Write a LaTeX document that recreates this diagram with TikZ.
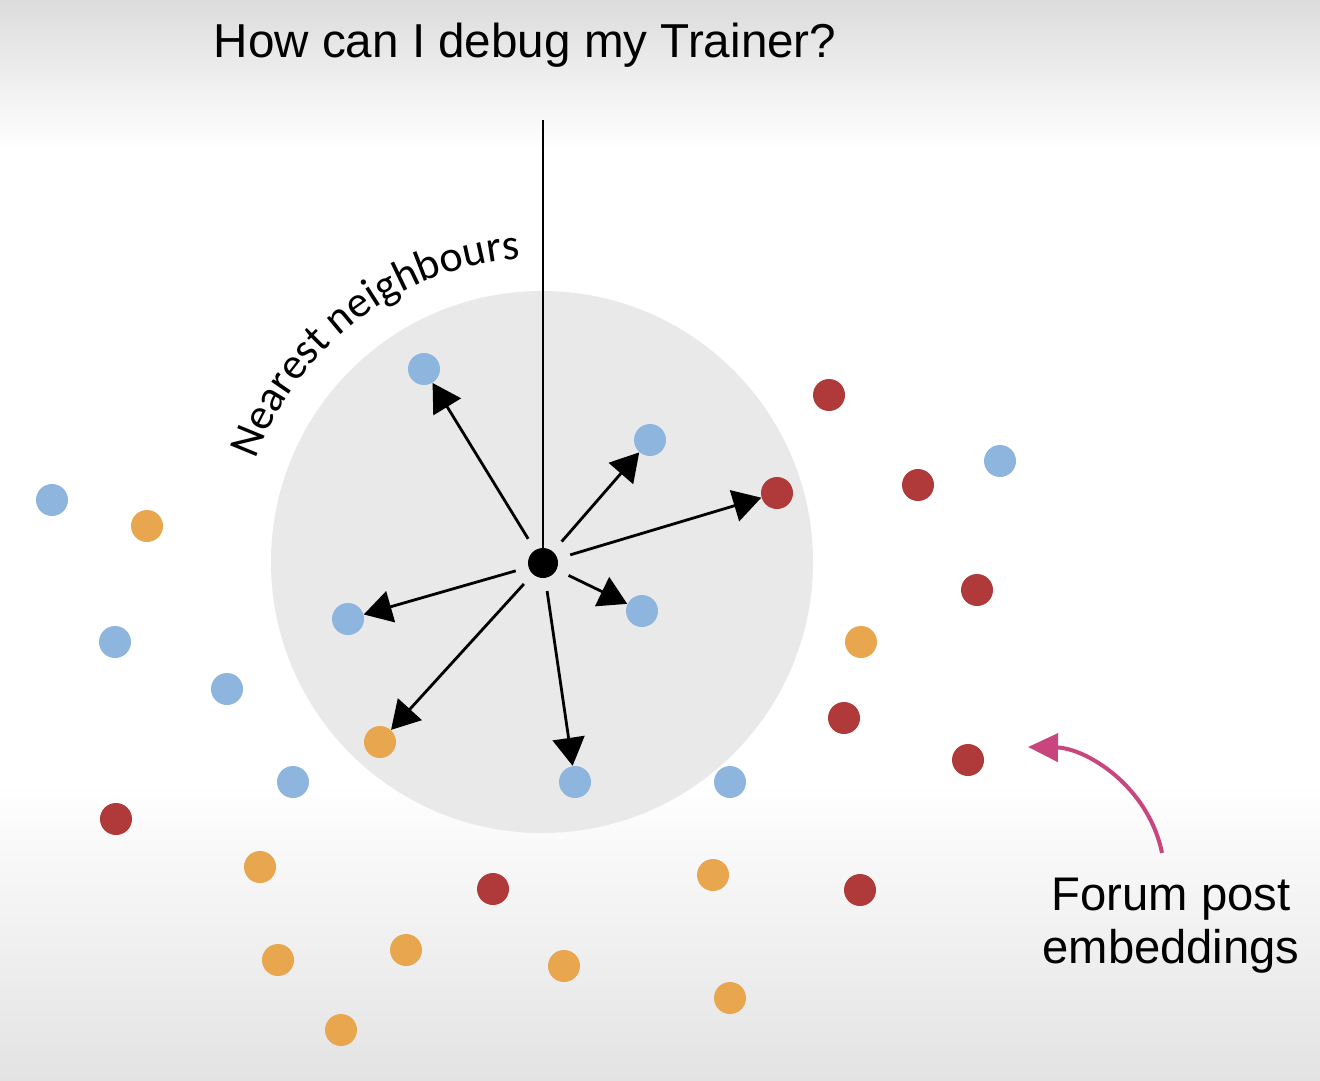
\documentclass[tikz,border=0pt]{standalone}
\usepackage{fontspec}
\setmainfont{Liberation Sans}
\newfontfamily\carlitofont{Carlito}
\usetikzlibrary{arrows.meta,decorations.text}
\definecolor{bgtop}{HTML}{DCDCDC}
\definecolor{bgbot}{HTML}{E3E3E3}
\definecolor{diskgray}{HTML}{E9E9E9}
\definecolor{dotblue}{HTML}{8DB5DE}
\definecolor{dotorange}{HTML}{E8A74E}
\definecolor{dotred}{HTML}{B03A3A}
\definecolor{pinkc}{HTML}{C8467D}
\tikzset{
  dotbase/.style={circle, inner sep=0pt, minimum size=16pt},
  bdot/.style={dotbase, fill=dotblue},
  odot/.style={dotbase, fill=dotorange},
  rdot/.style={dotbase, fill=dotred},
  nnarrow/.style={line width=1.4pt, -{Triangle[length=14pt,width=16pt]}, shorten <=6.5pt},
  pinkarrow/.style={line width=2pt, draw=pinkc, -{Triangle[length=15pt,width=14pt]}},
}
\begin{document}
\begin{tikzpicture}[x=0.5pt,y=-0.5pt]
\useasboundingbox (0,0) rectangle (1320,1080);
% background
\fill[white] (0,0) rectangle (1320,1080);
\shade[top color=bgtop, bottom color=white] (0,0) rectangle (1320,150);
\shade[top color=white, bottom color=bgbot] (0,780) rectangle (1320,1080);
% disk
\node[circle, fill=diskgray, inner sep=0pt, minimum size=271pt] (disk) at (542,562) {};
% title and query line
\node[font=\fontsize{23.8}{28}\selectfont, anchor=base] (title) at (525,58) {How can I debug my Trainer?};
\coordinate (qtop) at (543,120);
\node[circle, fill=black, inner sep=0pt, minimum size=15pt] (c) at (543,563) {};
\draw[line width=1pt] (qtop) -- (c.center);
% curved label
\path[decorate, decoration={text along path, text align={center},
  text={|\carlitofont\fontsize{22}{26}\selectfont|Nearest neighbours}}]
  (543,563) ++(-167.25:305) arc[start angle=-167.25, end angle=-87.25, radius=305];
% neighbour dots
\node[bdot] (n1) at (424,369) {};
\node[bdot] (n2) at (650,440) {};
\node[rdot] (n3) at (777,493) {};
\node[bdot] (n4) at (348,619) {};
\node[bdot] (n5) at (642,611) {};
\node[bdot] (n6) at (575,782) {};
\node[odot] (n7) at (380,742) {};
% other dots
\node[bdot] (b1) at (52,500) {};
\node[bdot] (b2) at (115,642) {};
\node[bdot] (b3) at (227,689) {};
\node[bdot] (b4) at (293,782) {};
\node[bdot] (b5) at (730,782) {};
\node[bdot] (b6) at (1000,461) {};
\node[odot] (o1) at (147,526) {};
\node[odot] (o2) at (861,642) {};
\node[odot] (o3) at (260,867) {};
\node[odot] (o4) at (713,875) {};
\node[odot] (o5) at (278,960) {};
\node[odot] (o6) at (406,950) {};
\node[odot] (o7) at (564,966) {};
\node[odot] (o8) at (730,998) {};
\node[odot] (o9) at (341,1030) {};
\node[rdot] (r1) at (829,395) {};
\node[rdot] (r2) at (918,485) {};
\node[rdot] (r3) at (977,590) {};
\node[rdot] (r4) at (844,718) {};
\node[rdot] (r5) at (968,760) {};
\node[rdot] (r6) at (116,819) {};
\node[rdot] (r7) at (493,889) {};
\node[rdot] (r8) at (860,890) {};
% arrows
\foreach \n in {n1,n2,n3,n4,n5,n6,n7}
  \draw[nnarrow] (c) -- (\n);
% forum label
\node[font=\fontsize{23.6}{28}\selectfont, anchor=base] (forum1) at (1171,910) {Forum post};
\node[font=\fontsize{23.6}{28}\selectfont, anchor=base] (forum2) at (1171,963) {embeddings};
\coordinate (pstart) at (1162,853);
\coordinate (ptip) at (1028,747);
\draw[pinkarrow] (pstart) .. controls (1148,785) and (1085,748) .. (ptip);
\end{tikzpicture}
\end{document}
